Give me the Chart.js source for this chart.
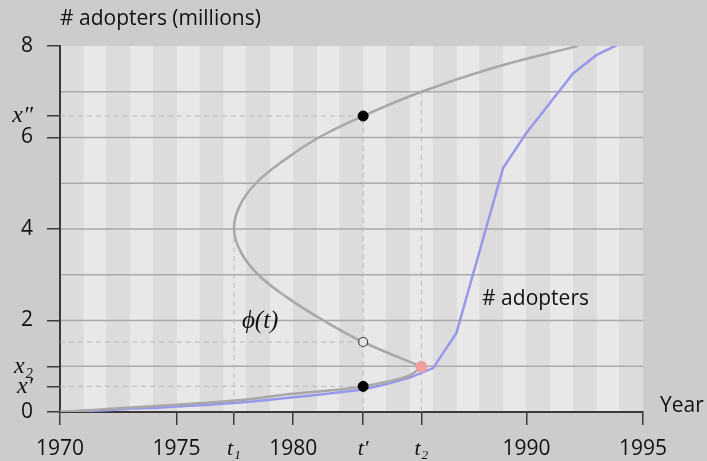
<!DOCTYPE html>
<html>
<head>
<meta charset="utf-8">
<script src="https://cdn.jsdelivr.net/npm/chart.js@4.4.1/dist/chart.umd.min.js"></script>
<style>
  html, body { margin: 0; padding: 0; background: #cccccc; }
  #wrap { width: 707px; height: 461px; }
</style>
</head>
<body>
<div id="wrap"><canvas id="adoptChart"></canvas></div>
<script>
// adopters per year (millions)
const years = [1970, 1971, 1972, 1973, 1974, 1975, 1976, 1977, 1978, 1979, 1980, 1981, 1982,
  1983, 1984, 1985, 1986, 1987, 1988, 1989, 1990, 1991, 1992, 1993, 1994];
const adopters = [0, 0.02, 0.04, 0.07, 0.09, 0.12, 0.15, 0.18, 0.22, 0.27, 0.32, 0.37, 0.43,
  0.49, 0.61, 0.75, 0.96, 1.73, 3.53, 5.33, 6.1, 6.75, 7.4, 7.8, 8.05];

// phi(t): lower branch up to the fold, then the upper branch
const phiLowT = [1970, 1972.5, 1975, 1977.5, 1980, 1982, 1983, 1984, 1985, 1985.5];
const phiLowX = [0, 0.08, 0.16, 0.25, 0.4, 0.49, 0.56, 0.66, 0.8, 0.99];
const phiUpT = [1985.5, 1983, 1981.3, 1979.75, 1978.5, 1977.75, 1977.46, 1977.7, 1978.4, 1979.6,
  1981.1, 1983, 1985.5, 1988.7, 1992.2];
const phiUpX = [0.99, 1.53, 2, 2.5, 3, 3.5, 4, 4.5, 5, 5.5, 6, 6.47, 7, 7.54, 8];

// marked times and levels
const t1 = 1977.46, tP = 1983, t2 = 1985.5;
const xP = 0.56, x2 = 0.99, xPP = 6.47, xOpen = 1.53, xTurn = 4, xT2 = 7;

// axis ticks
const xTickVals = [1970, 1975, t1, 1980, tP, t2, 1990, 1995];
const xTickLabels = ["1970", "1975", "t\u2081", "1980", "t\u2032", "t\u2082", "1990", "1995"];
const yTickVals = [0, xP, x2, 2, 4, 6, xPP, 8];
const yTickLabels = ["0", "x\u2032", "x\u2082", "2", "4", "6", "x\u2033", "8"];
const gridVals = [1, 2, 3, 4, 5, 6, 7];

const SANS = "'Open Sans'";
const MATH = "'Liberation Serif'";

const pts = (xs, ys) => xs.map((x, i) => ({ x: x, y: ys[i] }));
const symbolic = (lbl) => /[tx]/.test(lbl);
const tickFont = (labels, mathSize) => (c) => {
  const lbl = labels[c.index] || "";
  return symbolic(lbl)
    ? { family: MATH, style: "italic", size: mathSize }
    : { family: SANS, size: 21 };
};

const guide = (data) => ({
  data: data,
  showLine: true,
  borderColor: "#b9b9b9",
  borderWidth: 1,
  borderDash: [5, 4],
  pointRadius: 0,
  order: 4,
});

// striped years and horizontal rules, plus the free text
const backdrop = {
  id: "backdrop",
  beforeDraw(chart) {
    const { ctx, chartArea: a, scales } = chart;
    const xs = scales.x, ys = scales.y;
    ctx.save();
    ctx.fillStyle = "#cccccc";
    ctx.fillRect(0, 0, chart.width, chart.height);
    for (let yr = 1970; yr < 1995; yr++) {
      const l = xs.getPixelForValue(yr), r = xs.getPixelForValue(yr + 1);
      ctx.fillStyle = yr % 2 === 0 ? "#dcdcdc" : "#e8e8e8";
      ctx.fillRect(l, a.top, r - l, a.bottom - a.top);
    }
    ctx.strokeStyle = "#aaaaaa";
    ctx.lineWidth = 1.5;
    gridVals.forEach((v) => {
      const y = ys.getPixelForValue(v);
      ctx.beginPath();
      ctx.moveTo(a.left, y);
      ctx.lineTo(a.right, y);
      ctx.stroke();
    });
    ctx.restore();
  },
  afterDraw(chart) {
    const { ctx, chartArea: a, scales } = chart;
    const xs = scales.x, ys = scales.y;
    ctx.save();
    ctx.fillStyle = "#111";
    ctx.textBaseline = "middle";
    ctx.font = "21px " + SANS;
    ctx.textAlign = "left";
    ctx.fillText("# adopters (millions)", a.left, 19);
    ctx.fillText("Year", a.right + 17, a.bottom - 6);
    ctx.fillText("# adopters", xs.getPixelForValue(1988.1), ys.getPixelForValue(2.48));
    ctx.font = "italic 25px " + MATH;
    ctx.fillText("\u03d5(t)", xs.getPixelForValue(1977.8), ys.getPixelForValue(1.97));
    ctx.restore();
  },
};

new Chart(document.getElementById("adoptChart"), {
  type: "scatter",
  data: {
    datasets: [
      {
        data: [{ x: tP, y: xP }, { x: tP, y: xPP }],
        pointRadius: 5,
        pointBackgroundColor: "#000",
        pointBorderColor: "#000",
        order: 0,
      },
      {
        data: [{ x: tP, y: xOpen }],
        pointRadius: 4.5,
        pointBackgroundColor: "#e4e4e4",
        pointBorderColor: "#444",
        pointBorderWidth: 1.2,
        order: 0,
      },
      {
        data: [{ x: t2, y: x2 }],
        pointRadius: 5.5,
        pointBackgroundColor: "#ef9f9f",
        pointBorderColor: "#ef9f9f",
        order: 0,
      },
      {
        label: "# adopters",
        data: pts(years, adopters),
        showLine: true,
        borderColor: "#9898ea",
        borderWidth: 2.5,
        pointRadius: 0,
        order: 2,
      },
      {
        data: pts(phiLowT, phiLowX),
        showLine: true,
        borderColor: "#a8a8a8",
        borderWidth: 2.5,
        tension: 0.4,
        pointRadius: 0,
        order: 1,
      },
      {
        data: pts(phiUpT, phiUpX),
        showLine: true,
        borderColor: "#a8a8a8",
        borderWidth: 2.5,
        tension: 0.4,
        pointRadius: 0,
        order: 1,
      },
      guide([{ x: 1970, y: xPP }, { x: tP, y: xPP }, { x: tP, y: 0 }]),
      guide([{ x: 1970, y: xOpen }, { x: tP, y: xOpen }]),
      guide([{ x: 1970, y: xP }, { x: tP, y: xP }]),
      guide([{ x: t1, y: xTurn }, { x: t1, y: 0 }]),
      guide([{ x: t2, y: xT2 }, { x: t2, y: 0 }]),
    ],
  },
  options: {
    responsive: true,
    maintainAspectRatio: false,
    animation: false,
    layout: { padding: { left: 0, top: 46, right: 64, bottom: 0 } },
    plugins: {
      legend: { display: false },
      tooltip: { enabled: false },
    },
    scales: {
      x: {
        type: "linear",
        min: 1970,
        max: 1995,
        afterBuildTicks: (axis) => {
          axis.ticks = xTickVals.map((v) => ({ value: v }));
        },
        afterFit: (axis) => {
          axis.height = 49;
        },
        border: { display: true, color: "#3a3a3a", width: 2 },
        grid: { drawOnChartArea: false, drawTicks: true, tickLength: 13, color: "#3a3a3a", lineWidth: 1.5 },
        ticks: {
          padding: 11,
          maxRotation: 0,
          autoSkip: false,
          color: "#111",
          callback: (v) => xTickLabels[xTickVals.indexOf(v)],
          font: tickFont(xTickLabels, 22),
        },
      },
      y: {
        min: 0,
        max: 8,
        afterBuildTicks: (axis) => {
          axis.ticks = yTickVals.map((v) => ({ value: v }));
        },
        afterFit: (axis) => {
          axis.width = 60;
        },
        border: { display: true, color: "#3a3a3a", width: 2 },
        grid: { drawOnChartArea: false, drawTicks: true, tickLength: 13, color: "#3a3a3a", lineWidth: 1.5 },
        ticks: {
          padding: 14,
          autoSkip: false,
          color: "#111",
          callback: (v) => yTickLabels[yTickVals.indexOf(v)],
          font: tickFont(yTickLabels, 24),
        },
      },
    },
  },
  plugins: [backdrop],
});
</script>
</body>
</html>
